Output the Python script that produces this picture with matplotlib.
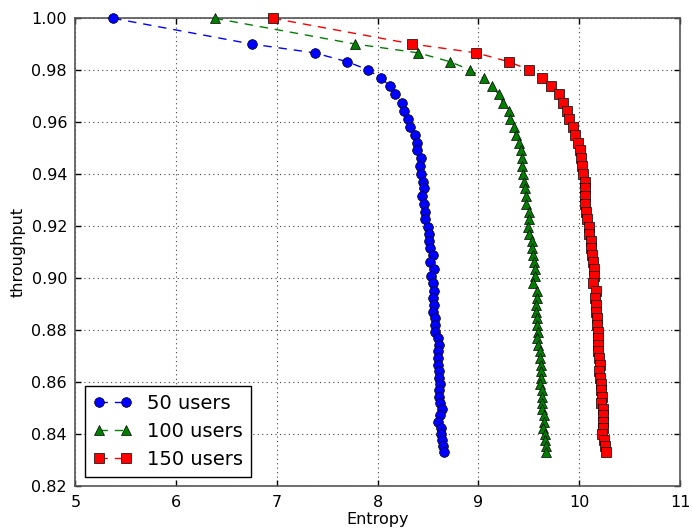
import matplotlib
matplotlib.use("Agg")
import matplotlib.pyplot as plt

# Throughput levels (shared sampling grid for all three user counts)
throughput = [
    1.0000, 0.9901, 0.9867, 0.9833, 0.9802, 0.9769, 0.9739, 0.9707, 0.9675, 0.9645,
    0.9612, 0.9582, 0.9550, 0.9522, 0.9492, 0.9462, 0.9431, 0.9401, 0.9372, 0.9346,
    0.9315, 0.9286, 0.9256, 0.9228, 0.9199, 0.9172, 0.9143, 0.9116, 0.9089, 0.9061,
    0.9035, 0.9008, 0.8981, 0.8952, 0.8925, 0.8899, 0.8872, 0.8847, 0.8820, 0.8795,
    0.8770, 0.8745, 0.8719, 0.8692, 0.8667, 0.8643, 0.8617, 0.8594, 0.8570, 0.8545,
    0.8520, 0.8497, 0.8473, 0.8448, 0.8425, 0.8401, 0.8378, 0.8356, 0.8333,
]

entropy_50 = [
    5.374, 6.748, 7.374, 7.695, 7.903, 8.035, 8.124, 8.173, 8.236, 8.265,
    8.299, 8.322, 8.371, 8.391, 8.386, 8.428, 8.421, 8.434, 8.448, 8.460,
    8.444, 8.457, 8.467, 8.470, 8.497, 8.507, 8.512, 8.523, 8.545, 8.523,
    8.557, 8.527, 8.545, 8.557, 8.547, 8.557, 8.547, 8.567, 8.567, 8.567,
    8.596, 8.612, 8.596, 8.602, 8.596, 8.606, 8.612, 8.616, 8.604, 8.612,
    8.616, 8.642, 8.621, 8.602, 8.632, 8.632, 8.640, 8.645, 8.660,
]

entropy_100 = [
    6.381, 7.777, 8.403, 8.716, 8.913, 9.051, 9.137, 9.200, 9.243, 9.300,
    9.309, 9.353, 9.368, 9.403, 9.423, 9.429, 9.436, 9.444, 9.455, 9.465,
    9.467, 9.470, 9.500, 9.503, 9.493, 9.503, 9.530, 9.533, 9.536, 9.550,
    9.559, 9.556, 9.540, 9.581, 9.581, 9.566, 9.572, 9.579, 9.579, 9.595,
    9.581, 9.587, 9.612, 9.609, 9.622, 9.619, 9.625, 9.614, 9.632, 9.632,
    9.632, 9.626, 9.647, 9.647, 9.644, 9.658, 9.661, 9.665, 9.668,
]

entropy_150 = [
    6.958, 8.345, 8.978, 9.299, 9.502, 9.626, 9.721, 9.799, 9.840, 9.878,
    9.897, 9.934, 9.962, 9.988, 10.010, 10.013, 10.028, 10.041, 10.052, 10.052,
    10.054, 10.061, 10.069, 10.081, 10.096, 10.101, 10.112, 10.119, 10.125, 10.132,
    10.142, 10.147, 10.139, 10.166, 10.153, 10.163, 10.170, 10.180, 10.180, 10.186,
    10.186, 10.186, 10.186, 10.200, 10.203, 10.200, 10.206, 10.211, 10.220, 10.226,
    10.220, 10.238, 10.238, 10.238, 10.238, 10.226, 10.246, 10.252, 10.265,
]

series_labels = ["50 users", "100 users", "150 users"]
x_ticks = [5, 6, 7, 8, 9, 10, 11]
y_ticks = [0.82, 0.84, 0.86, 0.88, 0.90, 0.92, 0.94, 0.96, 0.98, 1.00]

fig = plt.figure(figsize=(6.92, 5.30), dpi=100, facecolor="white")
ax = fig.add_axes([0.109, 0.0825, 0.8737, 0.883])

styles = [("#0000ff", "o"), ("#008000", "^"), ("#ff0000", "s")]
for xs, lab, (col, mk) in zip([entropy_50, entropy_100, entropy_150], series_labels, styles):
    ax.plot(xs, throughput, linestyle="--", dashes=(6, 5), color=col, linewidth=1.0,
            marker=mk, markersize=7, markerfacecolor=col, markeredgecolor="black",
            markeredgewidth=0.5, label=lab, clip_on=False, zorder=3)

ax.set_xlim(5, 11)
ax.set_ylim(0.82, 1.00)
ax.set_xticks(x_ticks)
ax.set_yticks(y_ticks)
ax.set_yticklabels([f"{v:.2f}" for v in y_ticks])
ax.tick_params(direction="in", length=4, width=1, top=True, right=True,
               labelsize=11.5, pad=6, colors="black")
ax.grid(True, linestyle=(0, (1, 3)), color="#444444", linewidth=0.8)
for sp in ax.spines.values():
    sp.set_color("#555555")
    sp.set_linewidth(1.2)

ax.set_xlabel("Entropy", fontsize=11.5, labelpad=2)
ax.set_ylabel("throughput", fontsize=11.5, labelpad=4)

leg = ax.legend(loc="lower left", numpoints=2, fontsize=14, fancybox=False,
                framealpha=1.0, edgecolor="black", borderaxespad=0.5,
                handlelength=2.0, handletextpad=0.8, labelspacing=0.45,
                borderpad=0.4)
leg.get_frame().set_linewidth(1.0)

fig.savefig("out.png", dpi=100, facecolor="white")
